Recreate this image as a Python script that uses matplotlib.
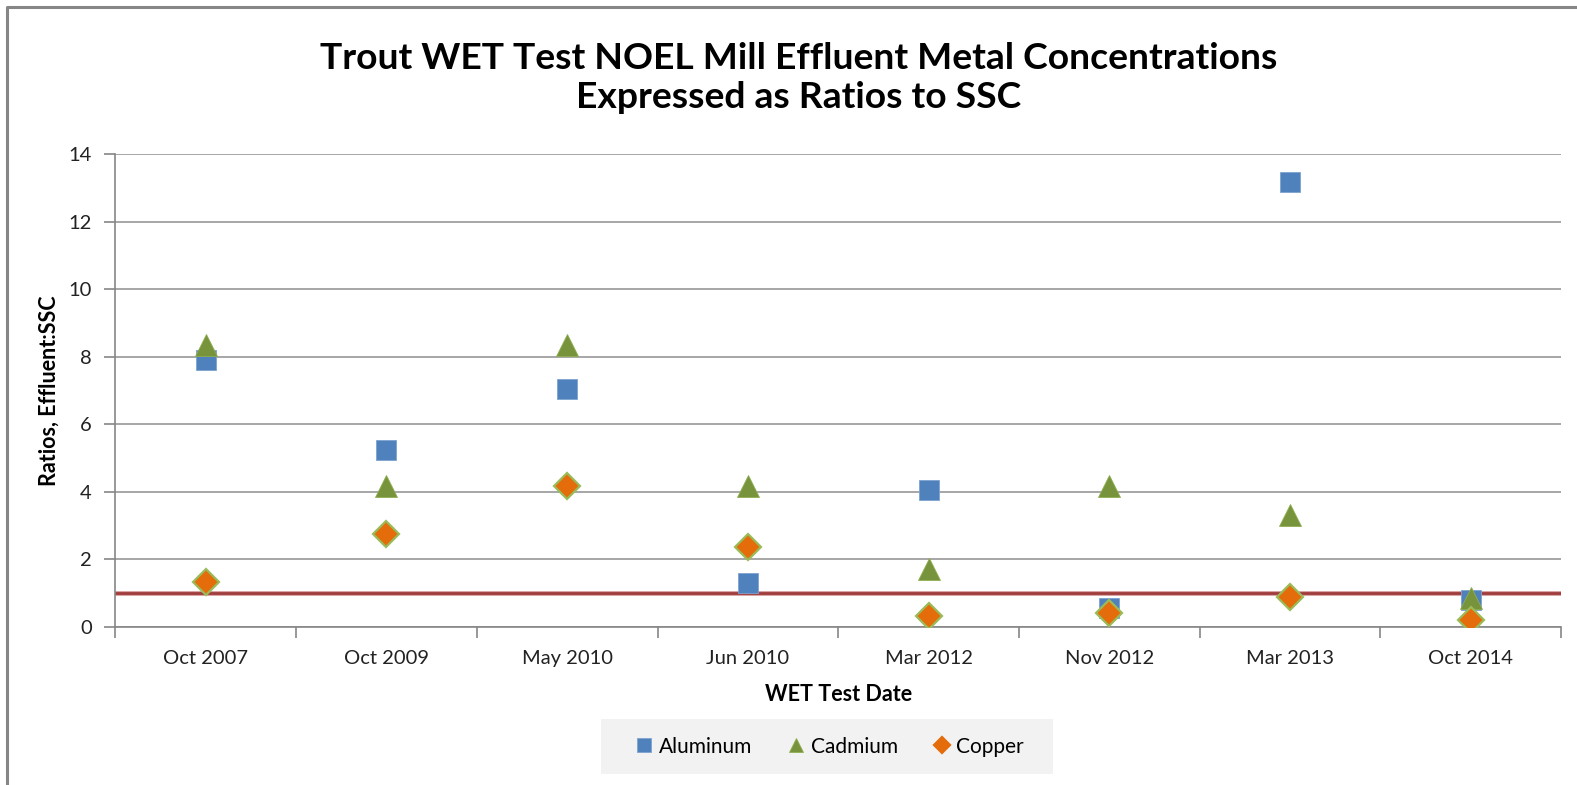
import matplotlib
matplotlib.use("Agg")
import matplotlib.pyplot as plt
from matplotlib.lines import Line2D
from matplotlib.patches import Rectangle
import numpy as np

plt.rcParams['font.family'] = ['Lato', 'DejaVu Sans']

# test dates and effluent:SSC ratios per metal
dates = ["Oct 2007", "Oct 2009", "May 2010", "Jun 2010",
         "Mar 2012", "Nov 2012", "Mar 2013", "Oct 2014"]
aluminum = [7.90, 5.25, 7.04, 1.28, 4.04, 0.55, 13.18, 0.80]
cadmium = [8.35, 4.17, 8.35, 4.17, 1.72, 4.17, 3.32, 0.84]
copper = [1.33, 2.74, 4.18, 2.35, 0.33, 0.40, 0.87, 0.20]
ssc_limit = 1.0

grey = '#868686'

fig = plt.figure(figsize=(15.77, 7.85), dpi=100)
ax = fig.add_axes([0.0732, 0.2017, 0.9167, 0.6015])

x = np.arange(len(dates))

# limit line at ratio 1
ax.axhline(ssc_limit, color='#D9A5A5', linewidth=3.6, zorder=2)
ax.axhline(ssc_limit, color='#A03C3C', linewidth=2.0, zorder=2)

ax.plot(x, aluminum, linestyle='none', marker='s', markersize=14.5,
        color='#4F81BD', markeredgecolor='#7EA3D1', markeredgewidth=0.6,
        label='Aluminum', zorder=3)
ax.plot(x, cadmium, linestyle='none', marker='^', markersize=16,
        color='#77933C', markeredgecolor='#8FAE50', markeredgewidth=0.6,
        label='Cadmium', zorder=4)
ax.plot(x, copper, linestyle='none', marker='D', markersize=13,
        color='#E46C0A', markeredgecolor='#9BBB59', markeredgewidth=1.6,
        label='Copper', zorder=5)

ax.set_xlim(-0.5, len(dates) - 0.5)
ax.set_ylim(0, 14)
ax.set_yticks(np.arange(0, 15, 2))
ax.set_xticks(x)
ax.set_xticklabels(dates)
ax.set_xticks(np.arange(-0.5, len(dates), 1), minor=True)
ax.tick_params(axis='x', which='major', length=0, pad=17, labelsize=14.5,
               labelcolor='#222222')
ax.tick_params(axis='x', which='minor', length=8, width=1.2, color=grey)
ax.tick_params(axis='y', length=8, width=1.2, color=grey, pad=9,
               labelsize=14.5, labelcolor='#222222')

ax.grid(axis='y', color='#A6A6A6', linewidth=1.4, zorder=0)
ax.set_axisbelow(True)
for side in ('top', 'right'):
    ax.spines[side].set_visible(False)
for side in ('left', 'bottom'):
    ax.spines[side].set_color(grey)
    ax.spines[side].set_linewidth(1.2)

ax.set_xlabel('WET Test Date', fontsize=15.5, fontweight='bold', labelpad=12)
ax.set_ylabel('Ratios, Effluent:SSC', fontsize=15.5, fontweight='bold',
              labelpad=6)

fig.text(0.5064, 0.9006, 'Trout WET Test NOEL Mill Effluent Metal Concentrations\n'
         'Expressed as Ratios to SSC', ha='center', va='center',
         fontsize=26.8, fontweight='bold', linespacing=1.24)

# legend panel behind the legend entries
fig.add_artist(Rectangle((0.3811, 0.014), 0.2866, 0.0701,
                         transform=fig.transFigure, facecolor='#F2F2F2',
                         edgecolor='none', zorder=0))
leg = fig.legend(loc='center', bbox_to_anchor=(0.5263, 0.049), ncol=3,
                 frameon=False, fontsize=15, markerscale=0.65,
                 handlelength=0.8, handletextpad=0.3, columnspacing=1.7)
leg.legend_handles[2].set_markeredgecolor('#E46C0A')

# chart area border (left and top edges only)
fig.add_artist(Line2D([0.0046, 0.0046, 1.0], [0.0, 0.9915, 0.9915],
                      transform=fig.transFigure, color=grey, linewidth=2.2,
                      solid_capstyle='butt'))

fig.savefig('out.png', dpi=100)
